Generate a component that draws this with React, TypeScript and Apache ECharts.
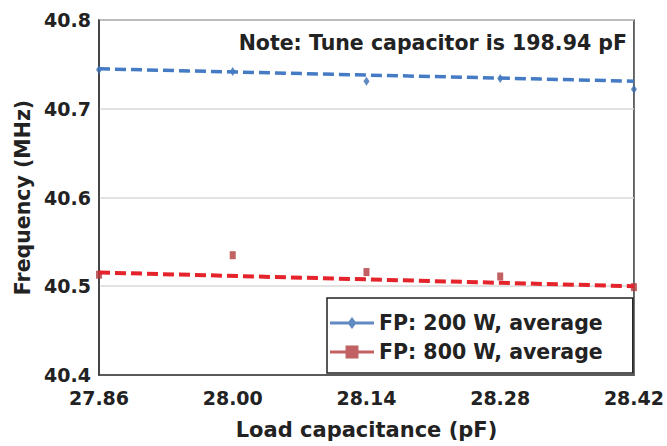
import React, { useEffect, useRef } from "react";
import * as echarts from "echarts";

const xTicks = [27.86, 28.0, 28.14, 28.28, 28.42];
const loadCap = [27.86, 28.0, 28.14, 28.28, 28.42];
const freq200 = [40.744, 40.742, 40.731, 40.734, 40.722];
const freq800 = [40.513, 40.535, 40.516, 40.511, 40.499];
const trend200 = [40.745, 40.731];
const trend800 = [40.5155, 40.5];
const name200 = "FP: 200 W, average";
const name800 = "FP: 800 W, average";
const noteText = "Note: Tune capacitor is 198.94 pF";

const FONT = "DejaVu Sans";
const TEXT = "#222222";

export default function App() {
  const ref = useRef<HTMLDivElement>(null);
  useEffect(() => {
    if (!ref.current) return;
    const chart = echarts.init(ref.current, null, { renderer: "svg" });
    const xMin = xTicks[0];
    const xMax = xTicks[xTicks.length - 1];
    chart.setOption({
      animation: false,
      backgroundColor: "#ffffff",
      title: {
        text: noteText,
        right: 40,
        top: 31,
        padding: 0,
        textStyle: { fontFamily: FONT, fontSize: 20.5, fontWeight: "bold", color: TEXT, lineHeight: 24 },
      },
      grid: {
        left: 99,
        right: 32,
        top: 20,
        bottom: 71,
        show: true,
        borderColor: "#3a3a3a",
        borderWidth: 1.5,
        backgroundColor: "transparent",
      },
      legend: {
        left: 327,
        top: 298,
        orient: "vertical",
        backgroundColor: "#ffffff",
        borderColor: "#222222",
        borderWidth: 1.5,
        borderRadius: 0,
        padding: [13, 30, 9, 3],
        itemGap: 5,
        itemWidth: 44,
        itemHeight: 16,
        textStyle: { fontFamily: FONT, fontSize: 20.5, fontWeight: "bold", color: TEXT, lineHeight: 24 },
        data: [
          { name: name200, icon: "path://M0,6.5h44v3h-44z M22,2L26.5,8L22,14L17.5,8Z" },
          { name: name800, icon: "path://M0,7h44v3h-44z M15.5,2h13v13h-13z" },
        ],
      },
      xAxis: {
        type: "value",
        min: xMin,
        max: xMax,
        interval: 0.14,
        name: "Load capacitance (pF)",
        nameLocation: "middle",
        nameGap: 44,
        nameTextStyle: { fontFamily: FONT, fontSize: 21, fontWeight: "bold", color: TEXT },
        axisLine: { show: true, lineStyle: { color: "#3a3a3a", width: 1.5 } },
        axisTick: { show: false },
        splitLine: { show: false },
        axisLabel: {
          margin: 13,
          fontFamily: FONT,
          fontSize: 19,
          fontWeight: "bold",
          color: TEXT,
          formatter: (v: number) => v.toFixed(2),
        },
      },
      yAxis: {
        type: "value",
        min: 40.4,
        max: 40.8,
        interval: 0.1,
        name: "Frequency (MHz)",
        nameLocation: "middle",
        nameGap: 66,
        nameTextStyle: { fontFamily: FONT, fontSize: 20.5, fontWeight: "bold", color: TEXT },
        axisLine: { show: true, lineStyle: { color: "#3a3a3a", width: 1.5 } },
        axisTick: { show: false },
        splitLine: { show: true, lineStyle: { color: "#d9d9d9", width: 1.5 } },
        axisLabel: {
          margin: 8,
          fontFamily: FONT,
          fontSize: 19,
          fontWeight: "bold",
          color: TEXT,
          formatter: (v: number) => v.toFixed(1),
        },
      },
      series: [
        {
          name: name200,
          type: "scatter",
          symbol: "diamond",
          symbolSize: [6, 9],
          itemStyle: { color: "#3a6db3" },
          data: loadCap.map((x, i) => [x, freq200[i]]),
          z: 2,
        },
        {
          name: name800,
          type: "scatter",
          symbol: "rect",
          symbolSize: [6, 8],
          itemStyle: { color: "#b23a3d" },
          data: loadCap.map((x, i) => [x, freq800[i]]),
          z: 2,
        },
        {
          name: "trend200",
          type: "line",
          symbol: "none",
          silent: true,
          lineStyle: { color: "#447bc4", width: 3.5, type: [11, 5] },
          data: [
            [xMin, trend200[0]],
            [xMax, trend200[1]],
          ],
          z: 3,
        },
        {
          name: "trend800",
          type: "line",
          symbol: "none",
          silent: true,
          lineStyle: { color: "#e5232b", width: 4, type: [11, 5] },
          data: [
            [xMin, trend800[0]],
            [xMax, trend800[1]],
          ],
          z: 3,
        },
      ],
    });
    return () => chart.dispose();
  }, []);
  return (
    <div
      ref={ref}
      style={{ position: "fixed", left: 0, top: 0, width: 667, height: 446 }}
    />
  );
}
